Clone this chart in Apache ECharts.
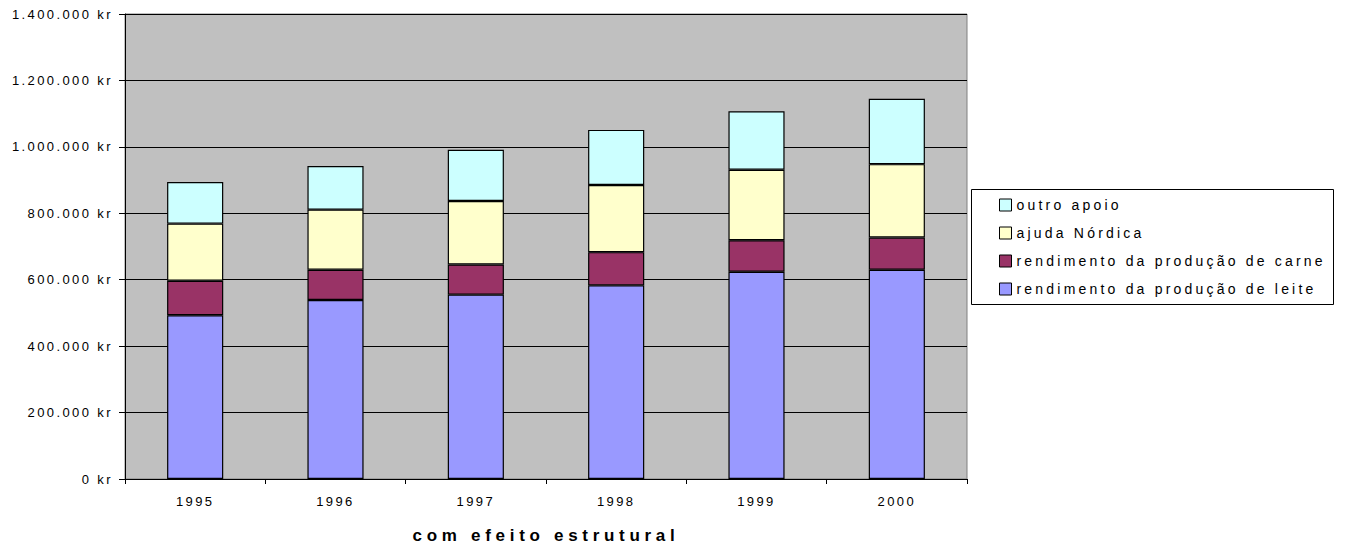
<!DOCTYPE html>
<html>
<head>
<meta charset="utf-8">
<script src="https://cdn.jsdelivr.net/npm/echarts@6/dist/echarts.min.js"></script>
<style>
  html, body { margin: 0; padding: 0; background: #fff; }
  #chart { width: 1366px; height: 551px; }
  #chart text { letter-spacing: 2.4px; }
  #chart text[style*="14px"] { letter-spacing: 3.2px; }
  #chart text[style*="bold"] { letter-spacing: 4.7px; }
</style>
</head>
<body>
<div id="chart"></div>
<script>
var years = ["1995", "1996", "1997", "1998", "1999", "2000"];
var leite = [493000, 539000, 555000, 583000, 624000, 630000];
var carne = [104000, 91000, 91000, 100000, 95000, 97000];
var nordica = [172000, 181000, 191000, 202000, 212000, 221000];
var outro = [125000, 131000, 154000, 166000, 176000, 197000];
var legendNames = ["outro apoio", "ajuda Nórdica", "rendimento da produção de carne", "rendimento da produção de leite"];

var myChart = echarts.init(document.getElementById("chart"), null, { renderer: "svg" });

function kr(v) {
  return String(v).replace(/\B(?=(\d{3})+(?!\d))/g, ".") + " kr";
}

function barSeries(name, data, color) {
  return {
    name: name,
    type: "bar",
    stack: "total",
    data: data,
    barWidth: "40%",
    itemStyle: { color: color, borderColor: "#000", borderWidth: 1.2 },
    emphasis: { disabled: true },
  };
}

var option = {
  animation: false,
  textStyle: { fontFamily: "Liberation Sans" },
  grid: {
    left: 125,
    right: 399,
    top: 14,
    bottom: 72,
    show: true,
    backgroundColor: "#C0C0C0",
    borderColor: "#808080",
    borderWidth: 1,
  },
  graphic: [
    {
      type: "rect",
      left: 971,
      top: 189,
      shape: { width: 362, height: 115 },
      style: { fill: "#fff", stroke: "#000", lineWidth: 1 },
      z: -1,
    },
  ],
  legend: {
    data: legendNames,
    orient: "vertical",
    left: 999,
    top: 198,
    padding: 0,
    icon: "rect",
    itemWidth: 12,
    itemHeight: 12,
    itemGap: 14,
    itemStyle: { borderColor: "#000", borderWidth: 1 },
    textStyle: { fontFamily: "Liberation Sans", fontSize: 14, color: "#000" },
    selectedMode: false,
  },
  xAxis: {
    type: "category",
    data: years,
    name: "com efeito estrutural",
    nameLocation: "middle",
    nameGap: 48,
    nameTextStyle: { fontFamily: "Liberation Sans", fontSize: 17, fontWeight: "bold", color: "#000" },
    axisLine: { lineStyle: { color: "#000", width: 1 } },
    axisTick: { show: true, length: 5, lineStyle: { color: "#000" } },
    axisLabel: { color: "#000", fontSize: 13, margin: 16, fontFamily: "Liberation Sans" },
  },
  yAxis: {
    type: "value",
    min: 0,
    max: 1400000,
    interval: 200000,
    axisLine: { show: true, lineStyle: { color: "#000", width: 1 } },
    axisTick: { show: true, length: 6, lineStyle: { color: "#000" } },
    axisLabel: { color: "#000", fontSize: 13, margin: 12, formatter: kr, fontFamily: "Liberation Sans" },
    splitLine: { lineStyle: { color: "#000", width: 1 } },
  },
  series: [
    barSeries(legendNames[3], leite, "#9999FF"),
    barSeries(legendNames[2], carne, "#993366"),
    barSeries(legendNames[1], nordica, "#FFFFCC"),
    barSeries(legendNames[0], outro, "#CCFFFF"),
  ],
};

myChart.setOption(option);
</script>
</body>
</html>
